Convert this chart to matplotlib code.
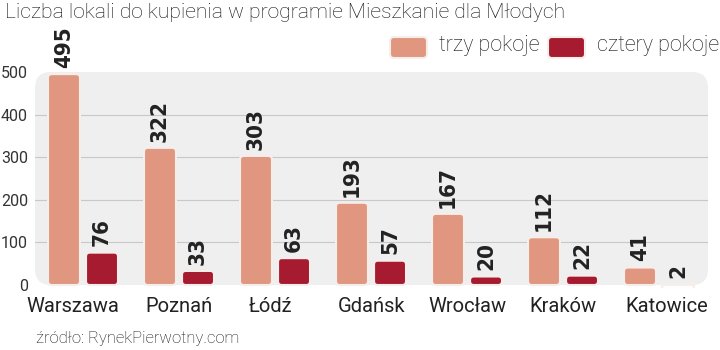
import matplotlib
matplotlib.use("Agg")
from matplotlib import pyplot as plt
from matplotlib.patches import FancyBboxPatch
from matplotlib import font_manager as fm
from matplotlib.transforms import ScaledTranslation
import numpy as np

cities = ["Warszawa", "Poznań", "Łódź", "Gdańsk", "Wrocław", "Kraków", "Katowice"]
trzy = [495, 322, 303, 193, 167, 112, 41]
cztery = [76, 33, 63, 57, 20, 22, 2]
yticks = [0, 100, 200, 300, 400, 500]

pink = "#E0967F"
red = "#A61B30"
txt = "#222222"

plt.rcParams['font.family'] = ['Roboto', 'DejaVu Sans']

# narrow bold face for the value labels, if one is installed
names = {f.name for f in fm.fontManager.ttflist}
if "Liberation Sans Narrow" in names:
    num_font = dict(family="Liberation Sans Narrow", fontweight="bold", fontsize=19)
else:
    num_font = dict(family="DejaVu Sans", fontweight="bold", fontsize=16, stretch="condensed")

fig = plt.figure(figsize=(7.2, 3.5), dpi=100)
L, R, T, B = 35, 708, 72, 285
ax = fig.add_axes([L/720, 1-B/350, (R-L)/720, (B-T)/350])
ax.set_xlim(-0.5, 6.51)
ax.set_ylim(0, (B - T) / 0.4333)
ax.patch.set_visible(False)
for s in ax.spines.values():
    s.set_visible(False)

# rounded grey background
bg = FancyBboxPatch((L/720, 1-B/350), (R-L)/720, (B-T)/350,
                    boxstyle="round,pad=0,rounding_size=%f" % (16/720),
                    transform=fig.transFigure, facecolor="#EFEFEF", edgecolor="none",
                    mutation_aspect=720/350, zorder=-5)
fig.patches.append(bg)
for v in yticks[1:5]:
    ax.axhline(v, color="#C8C8C8", lw=0.8, zorder=1)

x = np.arange(len(cities))
w = 0.333
off = 0.198
ylim = ax.get_ylim()[1]
asp = (ylim / (B - T)) / (7.01 / (R - L))

def rbar(xc, h, color):
    p = FancyBboxPatch((xc - w/2, 0), w, h,
                       boxstyle="round,pad=0,rounding_size=0.04",
                       mutation_aspect=asp, facecolor=color, edgecolor="#F6EEEB",
                       lw=1.5, zorder=3, clip_on=False)
    ax.add_patch(p)

for i in range(len(cities)):
    for xc, val, col in [(x[i] - off, trzy[i], pink), (x[i] + off, cztery[i], red)]:
        rbar(xc, val, col)
        ax.annotate(str(val), (xc, val), xytext=(0, 4.5), textcoords="offset points",
                    rotation=90, ha="center", va="bottom", color=txt, zorder=4,
                    annotation_clip=False, **num_font)

ax.set_yticks(yticks)
ax.set_yticklabels([str(v) for v in yticks], fontsize=11.5, color="#333333")
ax.tick_params(axis="y", length=0, pad=5)
ax.set_xticks(x)
ax.set_xticklabels(cities, fontsize=14.5, color=txt)
ax.tick_params(axis="x", length=0, pad=9)
# outer labels are nudged to stay inside the frame
shifts = [-10, 0, -5, 0, 0, 0, 8]
for lab, dx in zip(ax.get_xticklabels(), shifts):
    lab.set_transform(lab.get_transform() + ScaledTranslation(dx/100, 0, fig.dpi_scale_trans))

fig.text(5/720, 1-13/350, "Liczba lokali do kupienia w programie Mieszkanie dla Młodych",
         fontsize=15.2, fontweight="light", color="#111111", va="center", ha="left")
fig.text(36/720, 1-339/350, "źródło: RynekPierwotny.com", fontsize=12,
         fontweight="light", color="#111111", va="center", ha="left")

# legend
for (x0, col, lab) in [(390, pink, "trzy pokoje"), (548, red, "cztery pokoje")]:
    fig.patches.append(FancyBboxPatch((x0/720, 1-58/350), 37/720, 21/350,
                                      boxstyle="round,pad=0,rounding_size=%f" % (4/720),
                                      mutation_aspect=720/350,
                                      transform=fig.transFigure, facecolor=col,
                                      edgecolor="#F6EEEB", lw=1.5))
    fig.text((x0 + 49)/720, 1-46/350, lab, fontsize=15.5, fontweight="light",
             color="#111111", va="center", ha="left")

fig.savefig("out.png", dpi=100)
